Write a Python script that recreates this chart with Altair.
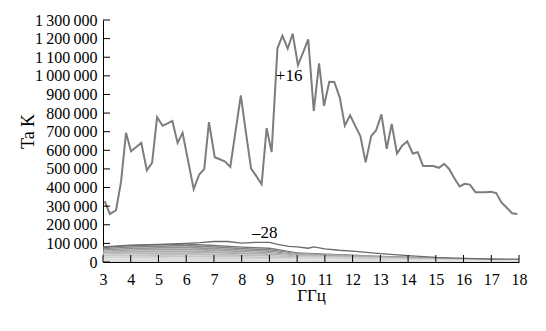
import altair as alt
import pandas as pd

# ---- data ----
x_ticks = [3, 4, 5, 6, 7, 8, 9, 10, 11, 12, 13, 14, 15, 16, 17, 18]
y_ticks = [0, 100000, 200000, 300000, 400000, 500000, 600000, 700000,
           800000, 900000, 1000000, 1100000, 1200000, 1300000]

freq_p16 = [3.06, 3.25, 3.47, 3.65, 3.83, 4.01, 4.20, 4.38, 4.58, 4.77,
            4.95, 5.15, 5.33, 5.50, 5.69, 5.87, 6.07, 6.27, 6.47, 6.65,
            6.82, 7.03, 7.21, 7.40, 7.59, 7.78, 7.97, 8.15, 8.34, 8.53,
            8.72, 8.90, 9.08, 9.29, 9.47, 9.66, 9.84, 10.03, 10.22, 10.40,
            10.60, 10.79, 10.97, 11.16, 11.34, 11.54, 11.72, 11.91, 12.10, 12.28,
            12.47, 12.67, 12.85, 13.04, 13.23, 13.41, 13.60, 13.78, 13.97, 14.17,
            14.35, 14.54, 14.73, 14.91, 15.11, 15.30, 15.48, 15.67, 15.86, 16.04,
            16.23, 16.43, 16.61, 16.80, 16.99, 17.18, 17.36, 17.55, 17.75, 17.94]
ta_p16 = [327000, 258000, 278000, 430000, 694000, 595000, 618000, 640000, 493000, 533000,
          778000, 732000, 745000, 758000, 640000, 694000, 542000, 391000, 470000, 499000,
          751000, 563000, 552000, 540000, 511000, 703000, 895000, 699000, 502000, 461000,
          418000, 719000, 590000, 1148000, 1216000, 1146000, 1226000, 1058000, 1128000, 1196000,
          811000, 1067000, 839000, 968000, 967000, 882000, 732000, 788000, 730000, 676000,
          535000, 676000, 708000, 793000, 608000, 742000, 583000, 624000, 648000, 583000,
          590000, 516000, 516000, 516000, 506000, 527000, 500000, 450000, 406000, 420000,
          416000, 375000, 375000, 375000, 377000, 370000, 321000, 293000, 262000, 258000]

freq_m28 = [3, 4, 5, 6, 6.5, 7, 7.5, 8, 8.5, 9, 9.3, 9.7, 10, 10.4, 10.6, 11,
            11.5, 12, 13, 14, 15, 16, 17, 18]
ta_m28 = [81000, 91000, 95000, 100000, 104000, 110000, 110000, 101000, 105000, 105000,
          95000, 84000, 81000, 74000, 81000, 70000, 63000, 58000, 45000, 34000,
          25000, 20000, 16000, 15000]

# bundle of the other curves (top to bottom)
freq_bundle = [3, 4, 5, 6, 7, 8, 9, 10, 11, 12, 13, 14, 15, 16, 17, 18]
bundle_1 = [81000, 91000, 95000, 100000, 92000, 83000, 78000, 52000, 46000, 40000, 34000, 29000, 23000, 19000, 16000, 14000]
bundle_2 = [74000, 84000, 88000, 92000, 85000, 76000, 70000, 47000, 42000, 36000, 31000, 26000, 21000, 17000, 15000, 13000]
bundle_3 = [68000, 76000, 80000, 83000, 77000, 68000, 62000, 43000, 38000, 33000, 28000, 24000, 19000, 16000, 14000, 12000]
bundle_4 = [62000, 68000, 71000, 73000, 68000, 60000, 54000, 39000, 34000, 30000, 26000, 22000, 18000, 15000, 13000, 12000]
bundle_5 = [55000, 60000, 62000, 63000, 58000, 52000, 47000, 35000, 31000, 27000, 23000, 20000, 17000, 14000, 12000, 11000]
bundle_6 = [47000, 50000, 50000, 50000, 46000, 42000, 38000, 31000, 28000, 24000, 21000, 18000, 15000, 13000, 12000, 10000]
bundle_7 = [40000, 40000, 38000, 36000, 34000, 32000, 29000, 26000, 24000, 21000, 19000, 16000, 14000, 12000, 11000, 10000]
bundle_8 = [30000, 28000, 27000, 25000, 24000, 23000, 21000, 20000, 19000, 17000, 15000, 13000, 12000, 11000, 10000, 9000]
bundle_9 = [20000, 19000, 18000, 17000, 16000, 15000, 14000, 14000, 13000, 12000, 11000, 10000, 9000, 9000, 8000, 8000]
bundle_floor = [0] * len(freq_bundle)
bundles = [bundle_1, bundle_2, bundle_3, bundle_4, bundle_5, bundle_6, bundle_7, bundle_8, bundle_9]
bundle_colors = ["#747474", "#858585", "#949494", "#a2a2a2", "#afafaf",
                 "#bcbcbc", "#c8c8c8", "#d3d3d3", "#dedede"]

labels_text = ["+16", "\u201328"]
labels_f = [9.71, 8.83]
labels_v = [999000, 154000]

FONT = "Liberation Serif"

xenc = alt.X("f:Q", scale=alt.Scale(domain=[3, 18], nice=False, zero=False),
             title="ГГц",
             axis=alt.Axis(values=x_ticks, ticks=False, grid=False, labelPadding=9,
                           labelFont=FONT, labelFontSize=16, labelColor="black",
                           labelFlush=False, labelOverlap=False, format="d",
                           domainColor="black", domainWidth=1,
                           titleFont=FONT, titleFontSize=17, titleFontWeight="normal",
                           titleColor="black", titleY=38, titleBaseline="alphabetic"))
yenc = alt.Y("v:Q", scale=alt.Scale(domain=[0, 1300000], nice=False, zero=True),
             title="Ta K",
             axis=alt.Axis(values=y_ticks, ticks=False, grid=False, labelPadding=6,
                           labelExpr="replace(replace(format(datum.value, ','), ',', '\u2009'), ',', '\u2009')",
                           labelFont=FONT, labelFontSize=16, labelColor="black",
                           labelFlush=False, labelOverlap=False,
                           domainColor="black", domainWidth=1,
                           titleFont=FONT, titleFontSize=18, titleFontWeight="normal",
                           titleColor="black", titleX=-75, titleY=111,
                           titleAlign="center", titleBaseline="middle"))

layers = []
lower = bundles[1:] + [bundle_floor]
for top_vals, low_vals, col in zip(bundles, lower, bundle_colors):
    df = pd.DataFrame({"f": freq_bundle, "v": top_vals, "v2": low_vals})
    layers.append(alt.Chart(df).mark_area(color=col, opacity=1, line=False)
                  .encode(x=xenc, y=yenc, y2="v2:Q"))

df_m28 = pd.DataFrame({"f": freq_m28, "v": ta_m28})
layers.append(alt.Chart(df_m28).mark_line(color="#6a6a6a", strokeWidth=1.3).encode(x=xenc, y=yenc))

df_p16 = pd.DataFrame({"f": freq_p16, "v": ta_p16})
layers.append(alt.Chart(df_p16).mark_line(color="#7d7d7d", strokeWidth=2).encode(x=xenc, y=yenc))

df_lab = pd.DataFrame({"f": labels_f, "v": labels_v, "t": labels_text})
layers.append(alt.Chart(df_lab).mark_text(font=FONT, fontSize=17, color="black",
                                          align="center", baseline="middle")
              .encode(x=xenc, y=yenc, text="t:N"))

# inward tick marks
df_xt = pd.DataFrame({"f": x_ticks})
layers.append(alt.Chart(df_xt).mark_rule(color="black", strokeWidth=1)
              .encode(x=xenc, y=alt.value(242), y2=alt.value(235)))
df_yt = pd.DataFrame({"v": y_ticks})
layers.append(alt.Chart(df_yt).mark_rule(color="black", strokeWidth=1)
              .encode(y=yenc, x=alt.value(0), x2=alt.value(7)))

chart = alt.layer(*layers).properties(
    width=416, height=242,
    padding={"left": 103, "top": 20, "right": 27, "bottom": 69},
    autosize=alt.AutoSizeParams(type="none"),
    background="white",
).configure(font=FONT).configure_view(stroke=None)

chart.save("out.html", embed_options={"renderer": "svg", "actions": False})
